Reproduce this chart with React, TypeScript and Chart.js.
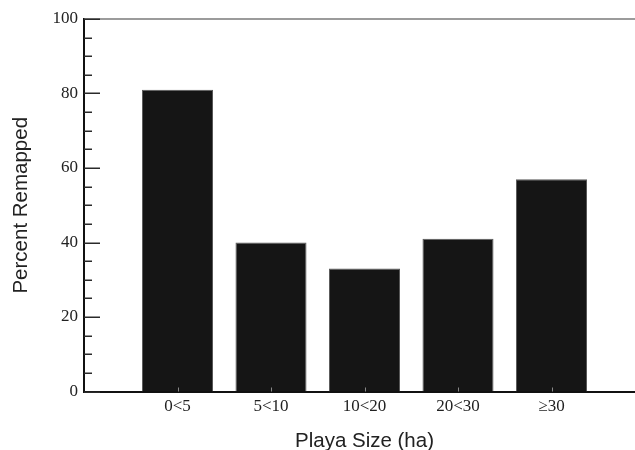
import React, { useEffect, useRef } from "react";
import { Chart, registerables } from "chart.js";

Chart.register(...registerables);

const categories = ["0<5", "5<10", "10<20", "20<30", "≥30"];
const percentRemapped = [81, 40, 33, 41, 57];
const yMin = 0;
const yMax = 100;
const yMajorStep = 20;
const yMinorStep = 5;

const innerTicks = {
  id: "innerTicks",
  afterDatasetsDraw(chart: any) {
    const { ctx, chartArea, scales } = chart;
    const y = scales.y;
    const x = scales.x;
    ctx.save();
    // top frame line
    ctx.strokeStyle = "#7a7a7a";
    ctx.lineWidth = 1.5;
    ctx.beginPath();
    ctx.moveTo(chartArea.left, chartArea.top);
    ctx.lineTo(chartArea.right + 10, chartArea.top);
    ctx.stroke();
    // y ticks, pointing inward
    ctx.strokeStyle = "#2a2a2a";
    ctx.lineWidth = 1.5;
    for (let v = yMin; v <= yMax; v += yMinorStep) {
      const py = Math.round(y.getPixelForValue(v)) + 0.25;
      const len = v % yMajorStep === 0 ? 16 : 8;
      ctx.beginPath();
      ctx.moveTo(chartArea.left, py);
      ctx.lineTo(chartArea.left + len, py);
      ctx.stroke();
    }
    // x ticks, pointing inward
    ctx.strokeStyle = "#888";
    ctx.lineWidth = 1;
    categories.forEach((_, i) => {
      const px = Math.round(x.getPixelForValue(i + 1)) + 0.5;
      ctx.beginPath();
      ctx.moveTo(px, chartArea.bottom);
      ctx.lineTo(px, chartArea.bottom - 4);
      ctx.stroke();
    });
    ctx.restore();
  },
};

export default function App() {
  const ref = useRef<HTMLCanvasElement | null>(null);
  useEffect(() => {
    if (!ref.current) return;
    const chart = new Chart(ref.current, {
      type: "bar",
      data: {
        datasets: [
          {
            data: percentRemapped.map((v, i) => ({ x: i + 1, y: v })),
            backgroundColor: "#151515",
            borderColor: "#5a5a5a",
            borderWidth: 1,
            barPercentage: 0.76,
            categoryPercentage: 1,
          },
        ],
      },
      options: {
        responsive: false,
        animation: false,
        layout: { padding: { top: 19, right: 5, bottom: 0, left: 0 } },
        plugins: { legend: { display: false }, tooltip: { enabled: false } },
        scales: {
          x: {
            type: "linear",
            offset: false,
            min: 0,
            max: categories.length + 1,
            grid: { display: false, drawTicks: false, offset: false },
            border: { display: true, color: "#111", width: 2 },
            afterBuildTicks: (scale: any) => {
              scale.ticks = categories.map((_, i) => ({ value: i + 1 }));
            },
            afterFit: (scale: any) => {
              scale.height = 58.5;
            },
            ticks: {
              autoSkip: false,
              maxRotation: 0,
              padding: 5,
              color: "#222",
              font: { family: "'Liberation Serif', serif", size: 17 },
              callback: (value: any) => categories[Number(value) - 1] ?? "",
            },
            title: {
              display: true,
              text: "Playa Size (ha)",
              color: "#222",
              font: { family: "'Liberation Sans', Arial, sans-serif", size: 20.5, lineHeight: 0.8 },
              padding: { top: 0, bottom: 0 },
            },
          },
          y: {
            min: yMin,
            max: yMax,
            grid: { display: false, drawTicks: false },
            border: { display: true, color: "#111", width: 2 },
            afterFit: (scale: any) => {
              scale.width = 84;
            },
            ticks: {
              stepSize: yMajorStep,
              padding: 6,
              color: "#222",
              font: { family: "'Liberation Serif', serif", size: 17 },
            },
            title: {
              display: true,
              text: "Percent Remapped",
              color: "#222",
              font: { family: "'Liberation Sans', Arial, sans-serif", size: 20.5 },
              padding: { top: 9, bottom: 0 },
            },
          },
        },
      },
      plugins: [innerTicks],
    } as any);
    return () => chart.destroy();
  }, []);
  return (
    <div
      style={{
        position: "fixed",
        left: 0,
        top: 0,
        width: 635,
        height: 450,
        overflow: "hidden",
        background: "#fff",
      }}
    >
      <canvas ref={ref} width={650} height={450} style={{ display: "block" }} />
    </div>
  );
}
